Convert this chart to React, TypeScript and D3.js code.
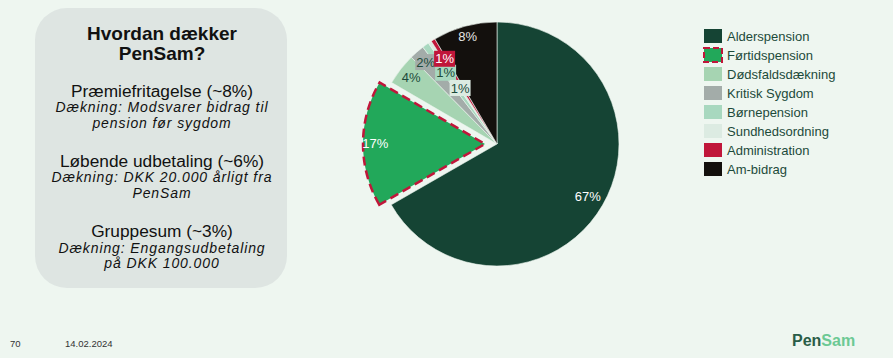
import React from "react";
import * as d3 from "d3";

const categories = ["Alderspension", "Førtidspension", "Dødsfaldsdækning", "Kritisk Sygdom", "Børnepension", "Sundhedsordning", "Administration", "Am-bidrag"];
const values = [66.7, 16.7, 4.2, 2.0, 0.9, 0.45, 0.55, 8.5];
const labels = ["67%", "17%", "4%", "2%", "1%", "1%", "1%", "8%"];
const colors = ["#154434", "#22a85a", "#a6d4b2", "#a3aca9", "#a8d8bf", "#dcebe2", "#c0163a", "#13100d"];
const labelColors = ["#ffffff", "#ffffff", "#1c4a3a", "#1c4a3a", "#1c4a3a", "#1c4a3a", "#ffffff", "#e6e6e6"];
const labelBoxes = [null, null, null, "#a3aca9", "#a8d8bf", "#dcebe2", "#c0163a", null];
const labelRadiusFactor = [0.86, 0.9, 0.89, 0.89, 0.72, 0.55, 0.82, 0.91];

const titleLines = ["Hvordan dækker", "PenSam?"];
const infoItems = [
  { head: "Præmiefritagelse (~8%)", lines: ["Dækning: Modsvarer bidrag til", "pension før sygdom"] },
  { head: "Løbende udbetaling (~6%)", lines: ["Dækning: DKK 20.000 årligt fra", "PenSam"] },
  { head: "Gruppesum (~3%)", lines: ["Dækning: Engangsudbetaling", "på DKK 100.000"] },
];

const W = 893, H = 358;
const cx = 497, cy = 144, R = 122;
const explodeIndex = 1;
const explodeDist = 12;

export default function App() {
  const pie = d3.pie<number>().sort(null).value((d) => d);
  const arcs = pie(values);
  const arcGen = d3.arc<d3.PieArcDatum<number>>().innerRadius(0).outerRadius(R);
  const font = "Arial, 'Liberation Sans', sans-serif";
  const textColor = "#1c4a3a";

  return (
    <div style={{ position: "absolute", left: 0, top: 0, width: W, height: H }}>
      <svg width={W} height={H} style={{ display: "block" }}>
        <rect x={0} y={0} width={W} height={H} fill="#eef6f0" />
        {/* info box */}
        <rect x={35} y={8} width={252} height={280} rx={32} ry={32} fill="#dee5e2" />
        <g fontFamily={font} textAnchor="middle" fill="#111">
          {titleLines.map((t, i) => (
            <text key={t} x={162} y={40 + i * 19.5} fontSize={19} fontWeight="bold">{t}</text>
          ))}
          {infoItems.map((it, i) => {
            const y0 = 96.5 + i * 70.3;
            return (
              <g key={i}>
                <text x={162} y={y0} fontSize={17.3}>{it.head}</text>
                {it.lines.map((l, j) => (
                  <text key={j} x={162} y={y0 + 15.5 + j * 15.8} fontSize={14} fontStyle="italic" letterSpacing={0.9}>{l}</text>
                ))}
              </g>
            );
          })}
        </g>

        {/* pie */}
        <g transform={`translate(${cx},${cy})`}>
          {arcs.map((a, i) => {
            const mid = (a.startAngle + a.endAngle) / 2;
            const off = i === explodeIndex ? explodeDist : 0;
            const tx = Math.sin(mid) * off, ty = -Math.cos(mid) * off;
            return (
              <path
                key={i}
                d={arcGen(a) || ""}
                transform={`translate(${tx},${ty})`}
                fill={colors[i]}
                stroke={i === explodeIndex ? "#c0163a" : "#eef6f0"}
                strokeWidth={i === explodeIndex ? 2.5 : 0.6}
                strokeDasharray={i === explodeIndex ? "9 5" : undefined}
                strokeLinejoin="miter"
              />
            );
          })}
          {arcs.map((a, i) => {
            const mid = (a.startAngle + a.endAngle) / 2;
            const off = i === explodeIndex ? explodeDist : 0;
            const r = R * labelRadiusFactor[i] + off;
            const x = Math.sin(mid) * r, y = -Math.cos(mid) * r;
            const bw = 21, bh = 16;
            return (
              <g key={"l" + i}>
                {labelBoxes[i] && (
                  <rect x={x - bw / 2} y={y - bh / 2} width={bw} height={bh} fill={labelBoxes[i] as string} />
                )}
                <text x={x} y={y} dy="0.35em" textAnchor="middle" fontFamily={font} fontSize={13} fill={labelColors[i]}>
                  {labels[i]}
                </text>
              </g>
            );
          })}
        </g>

        {/* legend */}
        <g fontFamily={font}>
          {categories.map((c, i) => {
            const y = 36 + i * 19;
            return (
              <g key={c}>
                <rect
                  x={704} y={y - 7} width={18} height={14}
                  fill={colors[i]}
                  stroke={i === explodeIndex ? "#c0163a" : "none"}
                  strokeWidth={i === explodeIndex ? 2 : 0}
                  strokeDasharray={i === explodeIndex ? "6 3" : undefined}
                />
                <text x={727} y={y} dy="0.35em" fontSize={13} fill={textColor}>{c}</text>
              </g>
            );
          })}
        </g>

        {/* footer */}
        <g fontFamily={font} fontSize={9.5} fill="#333">
          <text x={10} y={347}>70</text>
          <text x={65} y={347}>14.02.2024</text>
        </g>
        <text x={792} y={346} fontFamily={font} fontSize={16} fontWeight="bold">
          <tspan fill="#2a5d47">Pen</tspan>
          <tspan fill="#6cc994">Sam</tspan>
        </text>
      </svg>
    </div>
  );
}
